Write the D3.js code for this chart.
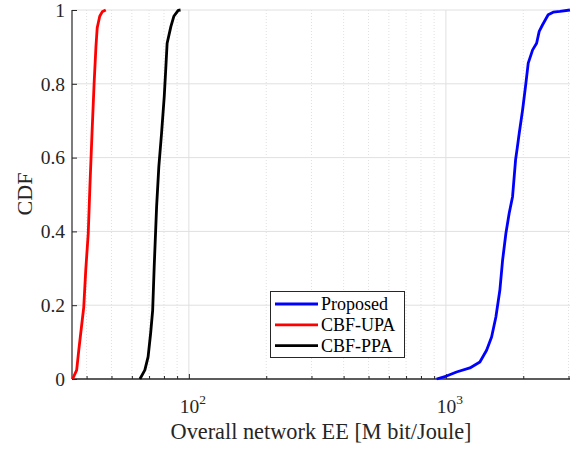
<!DOCTYPE html>
<html><head><meta charset="utf-8">
<script src="https://cdn.jsdelivr.net/npm/d3@7"></script>
<style>body{margin:0;background:#fff} svg text{font-family:"Liberation Serif","Times New Roman",Times,serif !important;}</style>
</head><body>
<svg id="c" width="580" height="449"></svg>
<script>
// Data
const seriesNames = ["Proposed", "CBF-UPA", "CBF-PPA"];
const proposedX = [920,1006,1100,1240,1356,1440,1506,1565,1622,1662,1712,1763,1817,1867,1894,1929,1988,2048,2091,2175,2254,2307,2378,2500,2615,2777,3038];
const proposedY = [0,0.008,0.019,0.030,0.046,0.078,0.114,0.168,0.241,0.322,0.395,0.449,0.494,0.594,0.625,0.666,0.729,0.802,0.856,0.892,0.910,0.942,0.960,0.987,0.994,0.996,1.0];
const upaX = [35.3,36.6,37.3,38.2,39.0,39.7,40.6,41.2,42.0,42.8,43.5,44.0,45.0,46.0,47.5];
const upaY = [0,0.024,0.078,0.141,0.195,0.295,0.395,0.520,0.667,0.803,0.901,0.952,0.983,0.995,1.0];
const ppaX = [64.5,67.4,69.4,71.0,72.3,73.3,74.9,76.4,78.3,80.2,81.4,82.3,85.1,87.4,90.9,92.8];
const ppaY = [0,0.024,0.06,0.124,0.186,0.304,0.467,0.575,0.666,0.765,0.847,0.910,0.955,0.983,0.999,1.0];
const yTicks = [0,0.2,0.4,0.6,0.8,1];
const yTickLabels = ["0","0.2","0.4","0.6","0.8","1"];
const xMajor = [100, 1000];
const xMajorExp = ["2","3"];
const xMinor = [40,50,60,70,80,90,200,300,400,500,600,700,800,900,2000,3000];
const colors = ["#0000ff", "#ff0000", "#000000"];

const svg = d3.select("#c");
const L = 72, R = 570, T = 10, B = 379;
const x = d3.scaleLog().domain([35.1, 3040]).range([L, R]);
const y = d3.scaleLinear().domain([0, 1]).range([B, T]);

// grid
const g = svg.append("g");
g.selectAll(".mg").data(xMinor).enter().append("line")
  .attr("x1", d => x(d)).attr("x2", d => x(d)).attr("y1", T).attr("y2", B)
  .attr("stroke", "#d8d8d8").attr("stroke-width", 0.8).attr("stroke-dasharray", "1,2");
g.selectAll(".Mg").data(xMajor).enter().append("line")
  .attr("x1", d => x(d)).attr("x2", d => x(d)).attr("y1", T).attr("y2", B)
  .attr("stroke", "#e0e0e0").attr("stroke-width", 1);
g.selectAll(".yg").data(yTicks.slice(1)).enter().append("line")
  .attr("x1", L).attr("x2", R).attr("y1", d => y(d)).attr("y2", d => y(d))
  .attr("stroke", "#e0e0e0").attr("stroke-width", 1);

// axes
const xAxis = d3.axisBottom(x).tickValues(xMajor).tickSize(-5).tickFormat("");
const gx = svg.append("g").attr("transform", `translate(0,${B})`).call(xAxis);
const xAxisMinor = d3.axisBottom(x).tickValues(xMinor).tickSize(-3).tickFormat("");
const gxm = svg.append("g").attr("transform", `translate(0,${B})`).call(xAxisMinor);
[gx, gxm].forEach(a => { a.select(".domain").attr("stroke", "#262626").attr("stroke-width", 1.2).attr("d", `M${L},0H${R}`); a.selectAll(".tick line").attr("stroke", "#262626"); });

const yAxis = d3.axisLeft(y).tickValues(yTicks).tickSize(-5).tickFormat((d, i) => yTickLabels[i]).tickPadding(7);
const gy = svg.append("g").attr("transform", `translate(${L},0)`).call(yAxis);
gy.select(".domain").attr("stroke", "#262626").attr("stroke-width", 1.2).attr("d", `M0,${B}V${T}`);
gy.selectAll(".tick line").attr("stroke", "#262626");
gy.selectAll(".tick text").attr("font-size", 19.5).attr("fill", "#262626");

// x tick labels with superscript
xMajor.forEach((v, i) => {
  const t = svg.append("text").attr("x", x(v) + 4).attr("y", 413).attr("text-anchor", "middle")
    .attr("font-size", 19.5).attr("fill", "#262626");
  t.append("tspan").text("10");
  t.append("tspan").attr("dy", -9).attr("font-size", 13.5).text(xMajorExp[i]);
});

// labels
svg.append("text").attr("x", 321).attr("y", 439).attr("text-anchor", "middle")
  .attr("font-size", 22.3).attr("fill", "#262626")
  .text("Overall network EE [M bit/Joule]");
svg.append("text").attr("transform", `translate(31.5,194) rotate(-90)`).attr("text-anchor", "middle")
  .attr("font-size", 22).attr("fill", "#262626").text("CDF");

// lines
const line = d3.line().x(d => x(d[0])).y(d => y(d[1]));
const data = [d3.zip(proposedX, proposedY), d3.zip(upaX, upaY), d3.zip(ppaX, ppaY)];
data.forEach((d, i) => {
  svg.append("path").datum(d).attr("d", line).attr("fill", "none")
    .attr("stroke", colors[i]).attr("stroke-width", 2.8).attr("stroke-linejoin", "round");
});

// legend
const lg = svg.append("g");
lg.append("rect").attr("x", 270.5).attr("y", 291.5).attr("width", 134).attr("height", 66)
  .attr("fill", "#fff").attr("stroke", "#262626").attr("stroke-width", 1);
seriesNames.forEach((n, i) => {
  const yy = 304 + i * 20.8;
  lg.append("line").attr("x1", 275).attr("x2", 318).attr("y1", yy).attr("y2", yy)
    .attr("stroke", colors[i]).attr("stroke-width", 2.8);
  lg.append("text").attr("x", 321).attr("y", yy + 6).attr("font-size", 18)
    .attr("fill", "#000").text(n);
});
</script>
</body></html>
